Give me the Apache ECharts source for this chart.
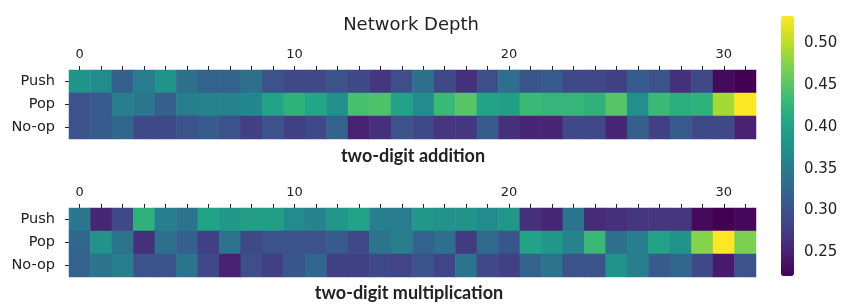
<!DOCTYPE html>
<html>
<head>
<meta charset="utf-8">
<script src="https://cdn.jsdelivr.net/npm/echarts@6/dist/echarts.min.js"></script>
<style>html,body{margin:0;padding:0;background:#fff;}#c{width:847px;height:308px;}</style>
</head>
<body>
<div id="c"></div>
<script>
// ---- data ----
const depths = Array.from({length: 32}, (_, i) => String(i));
const ops = ['Push', 'Pop', 'No-op'];
const colorbarTicks = [0.25, 0.30, 0.35, 0.40, 0.45, 0.50];
const valueMin = 0.222;
const valueMax = 0.532;

const addPush = [0.38,0.37,0.315,0.35,0.38,0.335,0.32,0.32,0.335,0.30,0.29,0.29,0.30,0.29,0.27,0.295,
                 0.335,0.29,0.265,0.295,0.335,0.305,0.31,0.29,0.29,0.28,0.31,0.30,0.265,0.29,0.23,0.222];
const addPop  = [0.30,0.31,0.355,0.345,0.315,0.355,0.36,0.36,0.365,0.40,0.42,0.405,0.375,0.44,0.445,0.40,
                 0.37,0.43,0.45,0.40,0.395,0.43,0.425,0.425,0.42,0.45,0.375,0.43,0.415,0.42,0.49,0.532];
const addNoop = [0.30,0.31,0.325,0.29,0.29,0.30,0.31,0.30,0.28,0.30,0.28,0.29,0.32,0.25,0.265,0.30,
                 0.29,0.27,0.27,0.31,0.265,0.255,0.255,0.29,0.29,0.255,0.315,0.28,0.31,0.29,0.29,0.25];

const mulPush = [0.345,0.255,0.29,0.42,0.355,0.34,0.40,0.385,0.395,0.395,0.37,0.36,0.385,0.40,0.355,0.35,
                 0.385,0.38,0.38,0.37,0.385,0.265,0.255,0.34,0.26,0.265,0.27,0.27,0.27,0.23,0.222,0.228];
const mulPop  = [0.325,0.38,0.34,0.265,0.335,0.315,0.28,0.34,0.29,0.30,0.30,0.30,0.31,0.29,0.34,0.355,
                 0.32,0.335,0.275,0.33,0.305,0.40,0.385,0.36,0.43,0.335,0.355,0.40,0.38,0.475,0.532,0.47];
const mulNoop = [0.32,0.34,0.355,0.30,0.30,0.34,0.29,0.25,0.295,0.28,0.305,0.325,0.28,0.28,0.29,0.285,
                 0.30,0.285,0.34,0.29,0.28,0.32,0.34,0.30,0.30,0.38,0.355,0.31,0.325,0.29,0.245,0.30];

const viridis = ['#440154','#482475','#414487','#355f8d','#2a788e','#21918c','#22a884','#44bf70','#7ad151','#bddf26','#fde725'];

function toCells(rows) {
  const out = [];
  rows.forEach((row, r) => row.forEach((v, c) => out.push([c, r, v])));
  return out;
}

const labelFont = 'DejaVu Sans';
function xAxisFor(gridIndex) {
  return {
    type: 'category', gridIndex, data: depths, position: 'top',
    axisLine: {show: false},
    axisTick: {show: true, alignWithLabel: true, interval: 0, length: 4, lineStyle: {color: '#222', width: 1}},
    axisLabel: {interval: (i) => i % 10 === 0, color: '#222', fontFamily: labelFont, fontSize: 13, margin: 9},
    splitLine: {show: false}
  };
}
function yAxisFor(gridIndex) {
  return {
    type: 'category', gridIndex, data: ops, inverse: true,
    axisLine: {show: false},
    axisTick: {show: true, alignWithLabel: true, interval: 0, length: 4, lineStyle: {color: '#222', width: 1}},
    axisLabel: {color: '#222', fontFamily: labelFont, fontSize: 14.5, margin: 14},
    splitLine: {show: false}
  };
}

const chart = echarts.init(document.getElementById('c'), null, {renderer: 'canvas'});
chart.setOption({
  animation: false,
  backgroundColor: '#fff',
  grid: [
    {left: 69, right: 91, top: 70, height: 69},
    {left: 69, right: 91, top: 208, height: 69},
    {left: 781, width: 13, top: 16, height: 260}
  ],
  xAxis: [
    xAxisFor(0), xAxisFor(1),
    {type: 'value', gridIndex: 2, show: false, min: 0, max: 1}
  ],
  yAxis: [
    yAxisFor(0), yAxisFor(1),
    {
      type: 'value', gridIndex: 2, position: 'right', min: valueMin, max: valueMax,
      axisLine: {show: false}, splitLine: {show: false},
      axisTick: {show: true, length: 5, customValues: colorbarTicks, lineStyle: {color: '#222'}},
      axisLabel: {customValues: colorbarTicks, formatter: (v) => v.toFixed(2), color: '#222', fontFamily: labelFont, fontSize: 15, margin: 10}
    }
  ],
  visualMap: {
    type: 'continuous', min: valueMin, max: valueMax, calculable: false,
    left: 781, top: 16, itemWidth: 13, itemHeight: 260, padding: 0,
    text: null, showLabel: false, hoverLink: false,
    inRange: {color: viridis}, seriesIndex: [0, 1]
  },
  series: [
    {type: 'heatmap', xAxisIndex: 0, yAxisIndex: 0, data: toCells([addPush, addPop, addNoop]), itemStyle: {borderWidth: 0}, emphasis: {disabled: true}},
    {type: 'heatmap', xAxisIndex: 1, yAxisIndex: 1, data: toCells([mulPush, mulPop, mulNoop]), itemStyle: {borderWidth: 0}, emphasis: {disabled: true}}
  ],
  graphic: [
    {type: 'text', x: 411, y: 25, style: {text: 'Network Depth', fontFamily: labelFont, fontSize: 18, fill: '#222', align: 'center', verticalAlign: 'middle'}},
    {type: 'text', x: 413, y: 156, style: {text: 'two-digit addition', fontFamily: 'Lato', fontWeight: 'bold', fontSize: 18, fill: '#222', align: 'center', verticalAlign: 'middle'}},
    {type: 'text', x: 409, y: 293, style: {text: 'two-digit multiplication', fontFamily: 'Lato', fontWeight: 'bold', fontSize: 18, fill: '#222', align: 'center', verticalAlign: 'middle'}}
  ]
});
</script>
</body>
</html>
